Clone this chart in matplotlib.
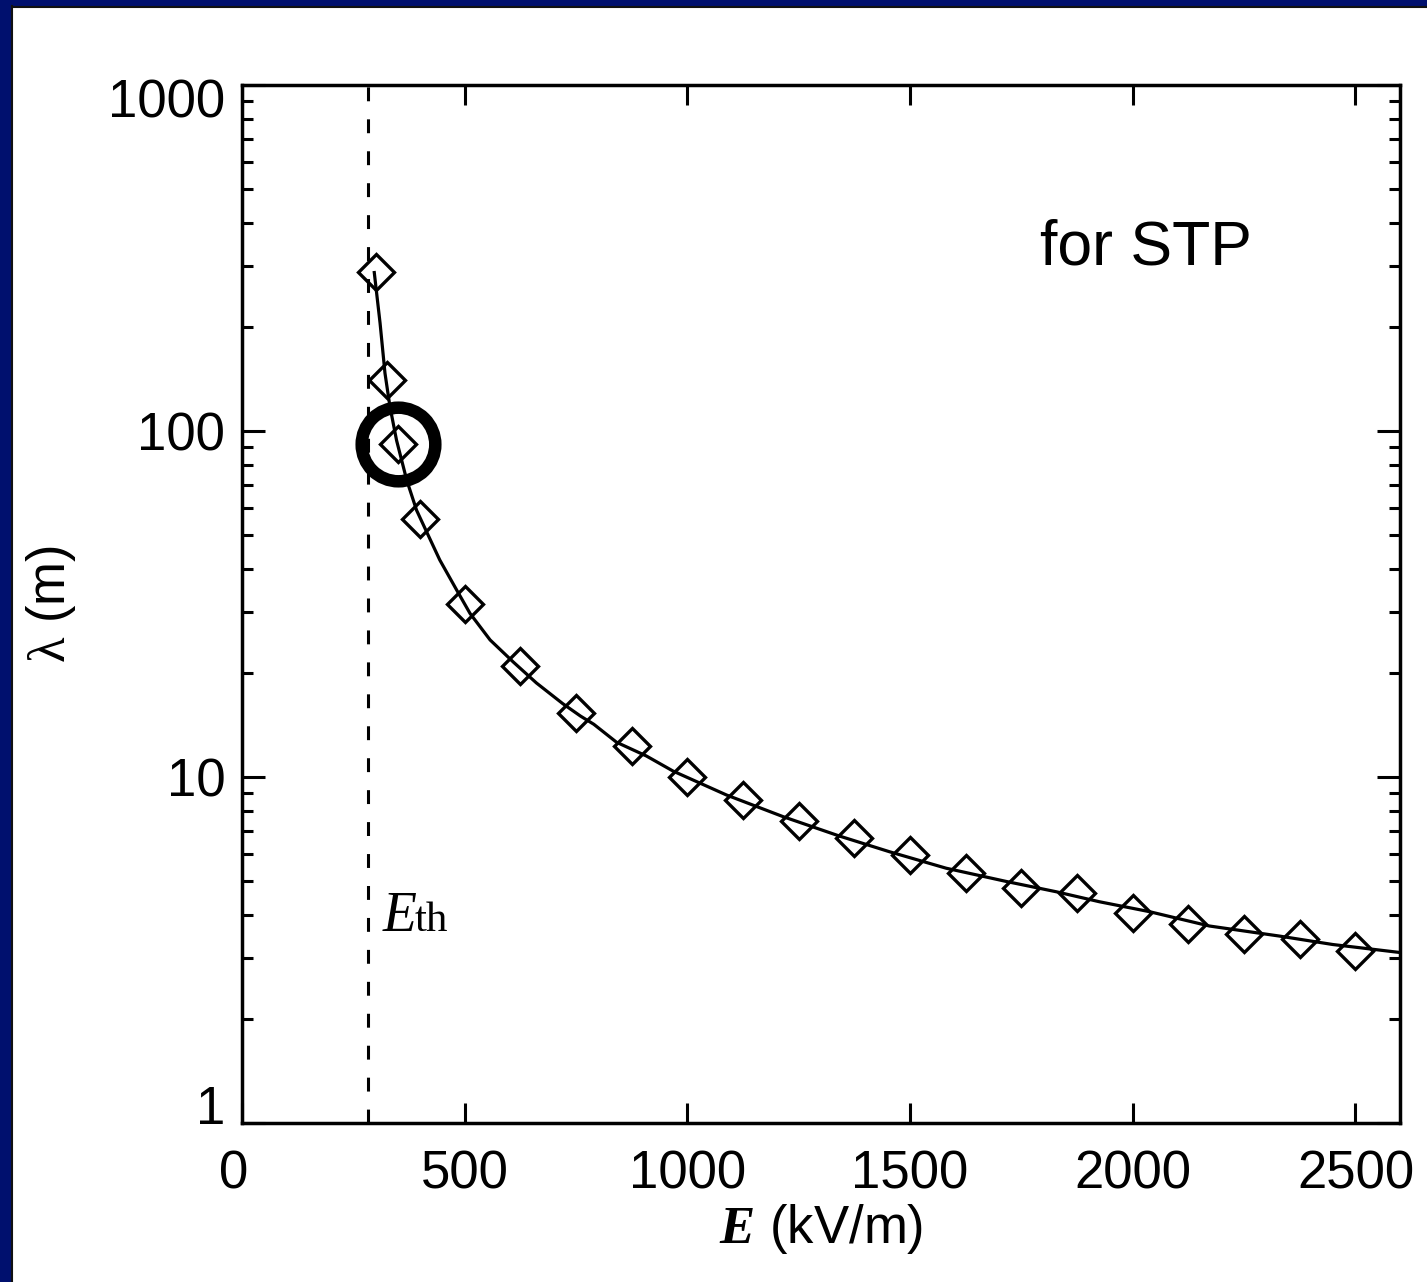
import matplotlib
matplotlib.use("Agg")
import matplotlib.pyplot as plt
import matplotlib.ticker as mticker
from matplotlib.patches import Rectangle
from matplotlib.lines import Line2D
from matplotlib.transforms import ScaledTranslation

plt.rcParams['font.family'] = ['Liberation Sans', 'DejaVu Sans']
plt.rcParams['mathtext.fontset'] = 'custom'
plt.rcParams['mathtext.rm'] = 'Liberation Serif'
plt.rcParams['mathtext.it'] = 'Liberation Serif:italic'
plt.rcParams['mathtext.bf'] = 'Liberation Serif:italic:bold'
plt.rcParams['lines.scale_dashes'] = False

# avalanche length vs field, Monte Carlo points
E_pts = [300, 325, 350, 400, 500, 625, 750, 875, 1000, 1125, 1250, 1375,
         1500, 1625, 1750, 1875, 2000, 2125, 2250, 2375, 2500]
lam_pts = [288, 140, 92, 55.6, 31.6, 20.9, 15.3, 12.3, 10.0, 8.58, 7.45, 6.68,
           5.95, 5.29, 4.79, 4.61, 4.04, 3.76, 3.52, 3.40, 3.14]

# fitted curve
E_fit = [297, 310, 321, 332, 347, 370, 392, 418, 444, 482, 512, 557, 609, 661,
         720, 760, 790, 841, 908, 968, 1088, 1215, 1340, 1454, 1581, 1716,
         1828, 1925, 2038, 2172, 2329, 2449, 2600]
lam_fit = [287, 205, 147, 118, 94, 72, 59, 50, 42.4, 34.7, 29.7, 24.9, 21.5,
           18.7, 16.3, 15.0, 14.2, 12.6, 11.5, 10.4, 8.87, 7.68, 6.76, 6.08,
           5.45, 4.99, 4.66, 4.36, 4.08, 3.71, 3.47, 3.28, 3.11]

E_th = 284
E_mark, lam_mark = 350, 92

x_ticks = [0, 500, 1000, 1500, 2000, 2500]
y_ticks = [1, 10, 100, 1000]
y_ticklabels = ['1', '10', '100', '1000']

W, H = 1427, 1282
fig = plt.figure(figsize=(W / 100, H / 100), dpi=100, facecolor='white')

# slide frame on the left and top
navy = '#00106e'
fig.patches.append(Rectangle((0, 0), 11 / W, 1, transform=fig.transFigure,
                             facecolor=navy, edgecolor='none', zorder=0))
fig.patches.append(Rectangle((0, 1 - 6 / H), 1, 6 / H, transform=fig.transFigure,
                             facecolor=navy, edgecolor='none', zorder=0))
fig.lines.append(Line2D([11.5 / W, 11.5 / W], [0, 1 - 6 / H], transform=fig.transFigure,
                        color='#111111', lw=1.5))
fig.lines.append(Line2D([11.5 / W, 1], [1 - 7 / H, 1 - 7 / H], transform=fig.transFigure,
                        color='#111111', lw=1.5))

ax = fig.add_axes([242 / W, (H - 1123) / H, (1400 - 242) / W, (1123 - 85) / H])

ax.axvline(E_th, color='k', lw=2.2, linestyle=(0, (10, 13)))
ax.plot(E_fit, lam_fit, '-', color='k', lw=2.3)
ax.plot(E_pts, lam_pts, 'D', ms=18.5, mfc='none', mec='k', mew=2.4)
ax.plot(E_mark, lam_mark, 'o', ms=53, mfc='none', mec='k', mew=9)

ax.set_yscale('log')
ax.set_xlim(0, 2600)
ax.set_ylim(1, 1000)
ax.set_xticks(x_ticks)
ax.set_xticklabels([str(v) for v in x_ticks])
ax.set_yticks(y_ticks)
ax.set_yticklabels(y_ticklabels)
ax.yaxis.set_minor_locator(mticker.LogLocator(base=10, subs=range(2, 10)))
ax.yaxis.set_minor_formatter(mticker.NullFormatter())
ax.xaxis.set_minor_locator(mticker.NullLocator())

for s in ax.spines.values():
    s.set_linewidth(2.5)
ax.tick_params(which='both', direction='in', top=True, right=True, width=2.2,
               labelsize=38)
ax.tick_params(axis='x', which='major', length=14.5, pad=19)
ax.tick_params(axis='y', which='major', length=16.5, pad=12)
ax.tick_params(axis='y', which='minor', length=8)

# nudge end labels the way the original plotting package placed them
yt = ax.yaxis.get_major_ticks()
yt[0].label1.set_transform(yt[0].label1.get_transform()
                           + ScaledTranslation(0, 19 / 100, fig.dpi_scale_trans))
yt[-1].label1.set_transform(yt[-1].label1.get_transform()
                            + ScaledTranslation(0, -12.5 / 100, fig.dpi_scale_trans))
xt = ax.xaxis.get_major_ticks()
xt[0].label1.set_transform(xt[0].label1.get_transform()
                           + ScaledTranslation(-8 / 100, 0, fig.dpi_scale_trans))

ax.set_xlabel(r'$\mathbf{E}$ (kV/m)', fontsize=38)
ax.xaxis.set_label_coords(0.5, -0.076)
ax.set_ylabel(r'$\mathrm{\lambda}$ (m)', fontsize=38)
ax.yaxis.set_label_coords(-0.142, 0.5)

ax.text(316, 3.6, 'E', fontsize=40, family='Liberation Serif', style='italic',
        va='baseline', ha='left')
ax.text(388, 3.6, 'th', fontsize=31, family='Liberation Serif',
        va='baseline', ha='left')
ax.text(0.689, 0.8266, 'for STP', transform=ax.transAxes, fontsize=45,
        va='baseline', ha='left')

fig.savefig('out.png', dpi=100, facecolor='white')
